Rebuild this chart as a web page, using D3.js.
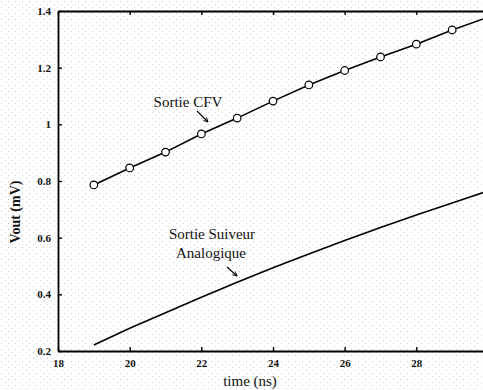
<!DOCTYPE html>
<html>
<head>
<meta charset="utf-8">
<script src="https://cdn.jsdelivr.net/npm/d3@7"></script>
<style>
  html, body { margin: 0; padding: 0; background: #fff; overflow: hidden; }
  svg text { font-family: "Liberation Serif", "DejaVu Serif", serif; fill: #111; }
</style>
</head>
<body>
<div id="container"></div>
<script>
// time (ns)
const timeCFV = [19, 20, 21, 22, 23, 24, 25, 26, 27, 28, 29, 30];
const voutCFV = [0.786, 0.846, 0.902, 0.966, 1.022, 1.082, 1.139, 1.19, 1.238, 1.283, 1.333, 1.378];
const markerTimes = [19, 20, 21, 22, 23, 24, 25, 26, 27, 28, 29];

const timeAnalog = [19, 20, 21, 22, 23, 24, 25, 26, 27, 28, 29, 30];
const voutAnalog = [0.221, 0.28, 0.335, 0.39, 0.443, 0.494, 0.542, 0.59, 0.636, 0.68, 0.722, 0.765];

const xTicks = [18, 20, 22, 24, 26, 28, 30];
const yTicks = [0.2, 0.4, 0.6, 0.8, 1, 1.2, 1.4];

const config = {
    width: 483,
    height: 390,
    left: 58,
    right: 488,
    top: 11,
    bottom: 351,
}

const svg = d3.select('#container')
    .append('svg')
    .attr('width', config.width)
    .attr('height', config.height)

// scanned paper speckle
const defs = svg.append('defs')
const pat = defs.append('pattern')
    .attr('id', 'speckle')
    .attr('width', 7)
    .attr('height', 6)
    .attr('patternUnits', 'userSpaceOnUse')
pat.append('rect').attr('x', 1).attr('y', 1).attr('width', 1).attr('height', 1).attr('fill', '#c8c8c8')
pat.append('rect').attr('x', 5).attr('y', 4).attr('width', 1).attr('height', 1).attr('fill', '#d8d8d8')

svg.append('rect')
    .attr('width', config.width)
    .attr('height', config.height)
    .attr('fill', 'url(#speckle)')

const x = d3.scaleLinear()
    .domain([18, 30])
    .range([config.left, config.right])

const y = d3.scaleLinear()
    .domain([0.2, 1.4])
    .range([config.bottom, config.top])

const fmt = d => d3.format('~g')(d)

// bottom axis (ticks inward)
svg.append('g')
    .attr('transform', `translate(0,${config.bottom})`)
    .call(d3.axisBottom(x).tickValues(xTicks).tickSizeInner(-4).tickSizeOuter(0).tickPadding(8).tickFormat(fmt))
    .call(g => g.select('.domain').attr('stroke', '#000').attr('stroke-width', 1.8))
    .call(g => g.selectAll('.tick line').attr('stroke', '#000').attr('stroke-width', 1.4))
    .call(g => g.selectAll('.tick text').style('font-size', '11px').style('font-weight', 'bold').attr('font-family', null))

// top axis (ticks only)
svg.append('g')
    .attr('transform', `translate(0,${config.top})`)
    .call(d3.axisTop(x).tickValues(xTicks).tickSizeInner(-4).tickSizeOuter(0).tickFormat(''))
    .call(g => g.select('.domain').attr('stroke', '#000').attr('stroke-width', 1.8))
    .call(g => g.selectAll('.tick line').attr('stroke', '#000').attr('stroke-width', 1.4))

// left axis
svg.append('g')
    .attr('transform', `translate(${config.left},0)`)
    .call(d3.axisLeft(y).tickValues(yTicks).tickSizeInner(-4).tickSizeOuter(0).tickPadding(7).tickFormat(fmt))
    .call(g => g.select('.domain').attr('stroke', '#000').attr('stroke-width', 1.8))
    .call(g => g.selectAll('.tick line').attr('stroke', '#000').attr('stroke-width', 1.4))
    .call(g => g.selectAll('.tick text').style('font-size', '11px').style('font-weight', 'bold').attr('font-family', null))

const line = d3.line()
    .x(d => x(d[0]))
    .y(d => y(d[1]))

svg.append('path')
    .datum(d3.zip(timeAnalog, voutAnalog))
    .attr('d', line)
    .attr('fill', 'none')
    .attr('stroke', '#000')
    .attr('stroke-width', 1.6)

svg.append('path')
    .datum(d3.zip(timeCFV, voutCFV))
    .attr('d', line)
    .attr('fill', 'none')
    .attr('stroke', '#000')
    .attr('stroke-width', 1.6)

svg.append('g')
    .selectAll('circle')
    .data(d3.zip(timeCFV, voutCFV).filter(d => markerTimes.includes(d[0])))
    .join('circle')
    .attr('cx', d => x(d[0]))
    .attr('cy', d => y(d[1]))
    .attr('r', 3.8)
    .attr('fill', '#fff')
    .attr('stroke', '#000')
    .attr('stroke-width', 1.2)

// annotations
const notes = [
    {text: 'Sortie CFV', x: 188, y: 107},
    {text: 'Sortie Suiveur', x: 212, y: 239},
    {text: 'Analogique', x: 211, y: 258},
]
svg.append('g')
    .selectAll('text')
    .data(notes)
    .join('text')
    .attr('x', d => d.x)
    .attr('y', d => d.y)
    .attr('text-anchor', 'middle')
    .style('font-size', '15px')
    .text(d => d.text)

defs.append('marker')
    .attr('id', 'arrow')
    .attr('viewBox', '0 0 10 10')
    .attr('refX', 9)
    .attr('refY', 5)
    .attr('markerWidth', 5)
    .attr('markerHeight', 5)
    .attr('orient', 'auto')
    .append('path')
    .attr('d', 'M1,1 L9,5 L1,9')
    .attr('fill', 'none')
    .attr('stroke', '#000')
    .attr('stroke-width', 1.6)

const arrows = [
    [197, 111, 208, 122],
    [227, 267, 237, 276],
]
svg.append('g')
    .selectAll('line')
    .data(arrows)
    .join('line')
    .attr('x1', d => d[0])
    .attr('y1', d => d[1])
    .attr('x2', d => d[2])
    .attr('y2', d => d[3])
    .attr('stroke', '#000')
    .attr('stroke-width', 1.1)
    .attr('marker-end', 'url(#arrow)')

svg.append('text')
    .attr('text-anchor', 'middle')
    .attr('transform', 'translate(20,212) rotate(-90)')
    .style('font-size', '14px')
    .style('font-weight', 'bold')
    .text('Vout (mV)')

svg.append('text')
    .attr('text-anchor', 'middle')
    .attr('x', 250)
    .attr('y', 386)
    .style('font-size', '15px')
    .text('time (ns)')
</script>
</body>
</html>
